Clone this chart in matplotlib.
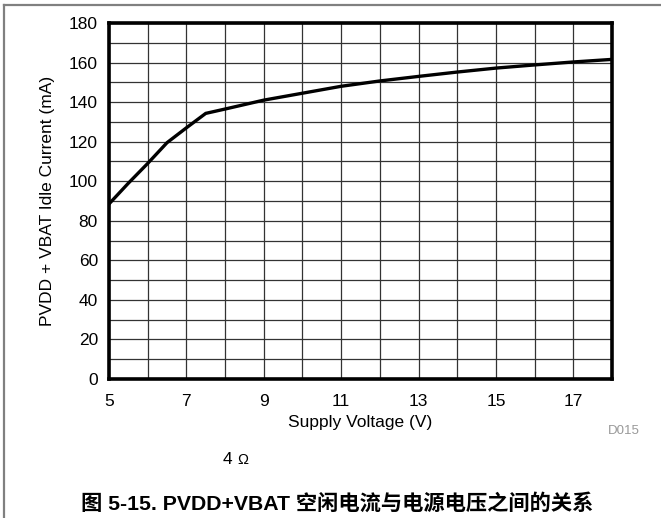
import matplotlib
matplotlib.use("Agg")
import matplotlib.pyplot as plt
from matplotlib.lines import Line2D

plt.rcParams['font.family'] = ['Liberation Sans', 'Noto Sans CJK SC', 'DejaVu Sans']

# Idle current vs. supply voltage
voltage = [5.0, 5.5, 6.0, 6.5, 7.0, 7.5, 8.0, 9.0, 10.0, 11.0, 12.0, 13.0, 14.0, 15.0, 16.0, 17.0, 18.0]
current = [88.5, 99.0, 109.0, 119.5, 127.0, 134.3, 136.5, 141.0, 144.5, 148.0, 150.7, 153.0, 155.2, 157.2, 158.8, 160.3, 161.6]

x_ticks = [5, 7, 9, 11, 13, 15, 17]
y_ticks = [0, 20, 40, 60, 80, 100, 120, 140, 160, 180]

fig = plt.figure(figsize=(6.61, 5.18), dpi=100)
ax = fig.add_axes([109 / 661, 1 - 379 / 518, (612 - 109) / 661, (379 - 23) / 518])

ax.plot(voltage, current, color='black', lw=2.4, solid_joinstyle='miter', zorder=3)

ax.set_xlim(5, 18)
ax.set_ylim(0, 180)
ax.set_xticks(x_ticks)
ax.set_yticks(y_ticks)
ax.set_xticks(range(5, 19), minor=True)
ax.set_yticks(range(0, 181, 10), minor=True)
ax.grid(which='both', color='#333333', lw=0.9)
ax.tick_params(which='both', length=0, labelsize=12.5)
ax.tick_params(axis='x', pad=11)
ax.tick_params(axis='y', pad=8)
for s in ax.spines.values():
    s.set_linewidth(2.6)
    s.set_color('black')

ax.set_xlabel('Supply Voltage (V)', fontsize=12.5, labelpad=4)
ax.set_ylabel('PVDD + VBAT Idle Current (mA)', fontsize=12.5, labelpad=10)

fig.text(608 / 661, 1 - 431 / 518, 'D015', fontsize=9.5, color='#999999', ha='left', va='center')
fig.text(223 / 661, 1 - 460 / 518, '4', fontsize=12.5, ha='left', va='center')
fig.text(237 / 661, 1 - 460 / 518, 'Ω', fontsize=10.5, ha='left', va='center')
fig.text(337 / 661, 1 - 503 / 518, '图 5-15. PVDD+VBAT 空闲电流与电源电压之间的关系',
         fontsize=15.3, fontweight='bold', ha='center', va='center')

# page frame lines
fig.add_artist(Line2D([4 / 661, 4 / 661], [0, 1 - 5 / 518], transform=fig.transFigure,
                      color='#808080', lw=1.6))
fig.add_artist(Line2D([4 / 661, 1], [1 - 5 / 518, 1 - 5 / 518], transform=fig.transFigure,
                      color='#808080', lw=1.6))

fig.savefig('out.png', dpi=100)
